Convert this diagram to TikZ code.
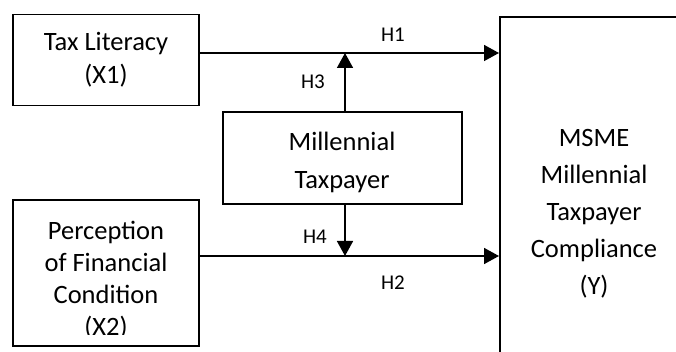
\documentclass[tikz,border=0pt]{standalone}
\usepackage{fontspec}
\setmainfont{Carlito}
\usetikzlibrary{arrows.meta}
\tikzset{
  box/.style={draw=black, line width=1.6pt, rectangle, align=center, inner sep=0pt},
  arr/.style={line width=1.6pt, -{Triangle[length=15pt,width=16pt]}},
  hlab/.style={font=\fontsize{21}{24}\selectfont, inner sep=0pt},
}
\begin{document}
\begin{tikzpicture}[x=1pt,y=-1pt]
\useasboundingbox (0,0) rectangle (676,352);
\fill[white] (0,0) rectangle (676,352);
\begin{scope}
\clip (0,0) rectangle (676,352);
\node[box, minimum width=186pt, minimum height=91pt,
      font=\fontsize{26.5}{33}\selectfont] (x1) at (106,60) {Tax Literacy\\(X1)};
\node[box, minimum width=186pt, minimum height=146pt] (x2) at (106,273) {};
\begin{scope}
\clip (13,200) rectangle (199,334);
\node[align=center, inner sep=0pt, font=\fontsize{26.5}{32}\selectfont] (x2t) at (106,280)
  {Perception\\of Financial\\Condition\\(X2)};
\end{scope}
\node[box, minimum width=239pt, minimum height=92pt] (z) at (342.5,158) {};
\node[align=center, inner sep=0pt, font=\fontsize{26.5}{38}\selectfont] (zt) at (342,162) {Millennial\\Taxpayer};
\node[box, anchor=north west, minimum width=300pt, minimum height=400pt] (y) at (499,16) {};
\node[align=center, inner sep=0pt, font=\fontsize{26.5}{37}\selectfont] (yt) at (594,214)
  {MSME\\Millennial\\Taxpayer\\Compliance\\(Y)};
\end{scope}
\coordinate (s1) at ([yshift=7pt]x1.east);
\coordinate (s2) at ([yshift=17pt]x2.east);
\draw[arr] (s1) -- (s1 -| y.west);
\draw[arr] (s2) -- (s2 -| y.west);
\coordinate (m3) at (345,53);
\coordinate (m4) at (345,256);
\draw[arr] (z.north -| m3) -- (m3);
\draw[arr] (z.south -| m4) -- (m4);
\node[hlab] (h1) at (393,35) {H1};
\node[hlab] (h2) at (393,283) {H2};
\node[hlab] (h3) at (313,82) {H3};
\node[hlab] (h4) at (315,237) {H4};
\end{tikzpicture}
\end{document}
